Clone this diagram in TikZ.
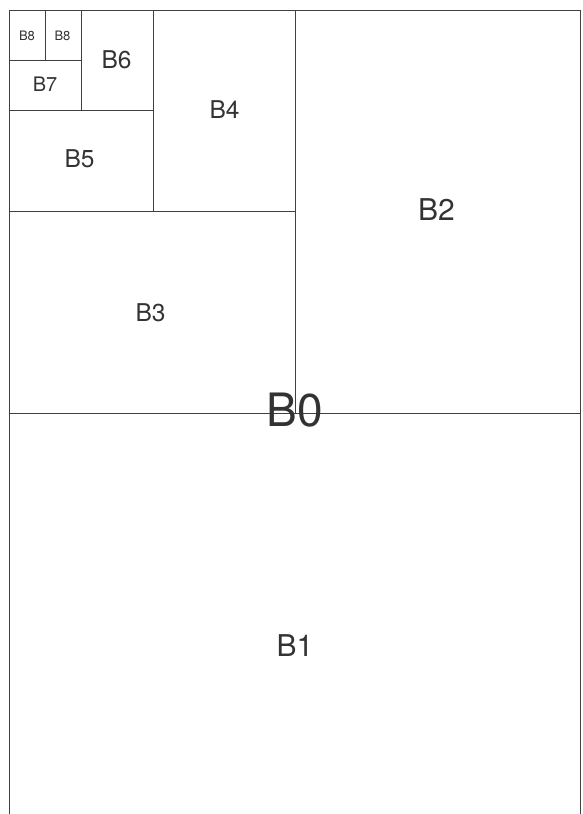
\documentclass[tikz,border=0pt]{standalone}
\usepackage{fontspec}
\setmainfont{TeX Gyre Heros}
\begin{document}
\begin{tikzpicture}[x=1pt,y=-1pt,
  ln/.style={draw=black!75,line width=0.8pt},
  lbl/.style={inner sep=0pt,text=black!80}]
\useasboundingbox (0,0) rectangle (583,814);
\coordinate (tl) at (9.5,10.5);
\coordinate (tr) at (580,10.5);
\coordinate (bl) at (9.5,814);
\coordinate (br) at (580,814);
\draw[ln] (bl) -- (tl) -- (tr) -- (br);
\coordinate (h1l) at (9.5,413.5); \coordinate (h1r) at (580,413.5);
\draw[ln] (h1l) -- (h1r);
\coordinate (v2t) at (295,10.5); \coordinate (v2b) at (295,413.5);
\draw[ln] (v2t) -- (v2b);
\coordinate (h3l) at (9.5,211.5); \coordinate (h3r) at (295,211.5);
\draw[ln] (h3l) -- (h3r);
\coordinate (v4t) at (153,10.5); \coordinate (v4b) at (153,211.5);
\draw[ln] (v4t) -- (v4b);
\coordinate (h5l) at (9.5,110.5); \coordinate (h5r) at (153,110.5);
\draw[ln] (h5l) -- (h5r);
\coordinate (v6t) at (81.5,10.5); \coordinate (v6b) at (81.5,110.5);
\draw[ln] (v6t) -- (v6b);
\coordinate (h7l) at (9.5,60.5); \coordinate (h7r) at (81.5,60.5);
\draw[ln] (h7l) -- (h7r);
\coordinate (v8t) at (45.5,10.5); \coordinate (v8b) at (45.5,60.5);
\draw[ln] (v8t) -- (v8b);
\node[lbl,font=\fontsize{13}{13}\selectfont] (b8a) at (27,36) {B8};
\node[lbl,font=\fontsize{13}{13}\selectfont] (b8b) at (62.5,36) {B8};
\node[lbl,font=\fontsize{20}{20}\selectfont] (b7) at (45,84) {B7};
\node[lbl,font=\fontsize{24.5}{24.5}\selectfont] (b6) at (116.5,59.5) {B6};
\node[lbl,font=\fontsize{24.5}{24.5}\selectfont] (b5) at (79.5,159) {B5};
\node[lbl,font=\fontsize{24.5}{24.5}\selectfont] (b4) at (224.5,109.5) {B4};
\node[lbl,font=\fontsize{24.5}{24.5}\selectfont] (b3) at (150.5,312.5) {B3};
\node[lbl,font=\fontsize{30}{30}\selectfont] (b2) at (436.5,210) {B2};
\node[lbl,font=\fontsize{30}{30}\selectfont] (b1) at (295,645.5) {B1};
\node[lbl,font=\fontsize{46}{46}\selectfont] (b0) at (295,410) {B0};
\end{tikzpicture}
\end{document}
